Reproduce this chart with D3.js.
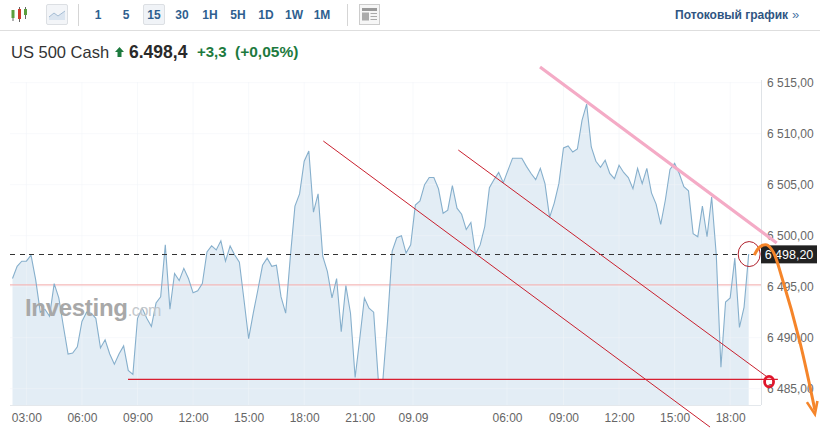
<!DOCTYPE html>
<html><head><meta charset="utf-8">
<script src="https://cdn.jsdelivr.net/npm/d3@7/dist/d3.min.js"></script>
<style>html,body{margin:0;padding:0;background:#fff}svg{display:block}text{font-family:"Liberation Sans",Arial,sans-serif}</style>
</head><body><svg id="c" width="820" height="428"></svg>
<script>
const prices=[6495.8,6497.0,6497.5,6497.5,6498.1,6495.7,6492.5,6492.8,6492.1,6495.3,
6493.9,6491.1,6488.4,6488.5,6489.1,6491.6,6492.5,6492.4,6491.9,6489.0,
6489.8,6488.4,6487.4,6488.4,6489.2,6486.8,6486.4,6491.9,6492.9,6491.9,
6491.1,6493.4,6494.0,6499.1,6492.8,6496.3,6495.6,6496.8,6495.8,6494.4,
6494.6,6495.3,6498.4,6499.0,6498.6,6499.5,6497.5,6499.0,6498.1,6497.4,
6493.7,6489.9,6492.4,6494.7,6497.1,6497.8,6497.0,6497.1,6494.0,6492.4,
6497.9,6502.9,6504.1,6507.3,6508.3,6502.3,6504.1,6498.0,6496.5,6493.9,
6495.8,6490.6,6495.1,6492.4,6486.1,6489.9,6493.9,6492.9,6492.5,6485.9,
6485.9,6491.6,6498.5,6499.8,6500.0,6498.3,6499.1,6503.0,6503.4,6505.0,
6505.7,6505.7,6504.6,6502.2,6502.5,6504.9,6502.7,6502.1,6500.6,6501.3,
6498.2,6499.1,6500.9,6504.7,6505.5,6506.2,6505.2,6506.4,6507.6,6507.6,
6507.6,6506.8,6506.1,6505.5,6506.6,6505.1,6501.8,6503.2,6505.1,6508.6,
6508.8,6508.2,6508.5,6511.3,6512.9,6508.7,6507.3,6506.7,6507.4,6506.1,
6505.6,6506.9,6506.2,6505.7,6504.6,6506.6,6505.1,6506.6,6504.2,6503.1,
6501.1,6503.5,6506.5,6507.1,6506.1,6504.8,6504.4,6500.2,6499.9,6502.9,
6499.9,6503.8,6498.1,6487.1,6493.5,6493.9,6497.8,6491.0,6493.0,6498.2];
const timeTickIdx=[3,15,27,39,51,63,75,86.5,106.8,119,131,143,155];
const timeTickLabels=["03:00","06:00","09:00","12:00","15:00","18:00","21:00","09.09","06:00","09:00","12:00","15:00","18:00"];
const priceTicks=[6515,6510,6505,6500,6495,6490,6485];
const priceTickLabels=["6 515,00","6 510,00","6 505,00","6 500,00","6 495,00","6 490,00","6 485,00"];
const lastPrice=6498.2, lastLabel="6 498,20", refPrice=6495.17;
const redLines=[[[67.13,6509.28],[150.65,6481.24]],[[96.28,6508.4],[162.9,6486.18]]];
const supportLine=[[24.95,6485.92],[165.3,6485.92]];
const pinkLine=[[113.93,6516.54],[165.05,6499.28]];
const orangeCurve=[[160.2,6498.1],[161.4,6498.9],[162.9,6499.1],[164.3,6498.4],[166.1,6496.0],[170.1,6489.5],[173.3,6482.9]];
const thinCircle=[159.1,6498.2], boldCircle=[163.4,6485.69];
const intervals=["1","5","15","30","1H","5H","1D","1W","1M"];

const svg=d3.select("#c");
const x=d3.scaleLinear().domain([0,159]).range([12.5,748.7]);
const y=d3.scaleLinear().domain([6485,6515]).range([388.7,82.7]);
const L=10,R=761,B=405,T=82;
const UI='"Inter","Liberation Sans",sans-serif';

// grid and axes
const grid=svg.append("g").attr("stroke","#f1f4f7").attr("stroke-width",1);
grid.selectAll(".v").data(timeTickIdx).join("line").attr("x1",d=>x(d)).attr("x2",d=>x(d)).attr("y1",T).attr("y2",B);
grid.selectAll(".h").data(priceTicks).join("line").attr("x1",L).attr("x2",R).attr("y1",d=>y(d)).attr("y2",d=>y(d));

// area + line
const series=prices.map((v,i)=>[i,v]);
svg.append("path").datum(series).attr("fill","#e3edf5").attr("d",d3.area().x(d=>x(d[0])).y0(B).y1(d=>y(d[1])));
grid.raise();
grid.attr("stroke-opacity",0.55);

svg.append("line").attr("x1",L).attr("x2",R).attr("y1",y(refPrice)).attr("y2",y(refPrice)).attr("stroke","#f5b9b9").attr("stroke-width",1.2);
svg.append("path").datum(series).attr("fill","none").attr("stroke","#86afcc").attr("stroke-width",1.1).attr("d",d3.line().x(d=>x(d[0])).y(d=>y(d[1])));

const axB=svg.append("g").attr("transform",`translate(0,${B})`).call(d3.axisBottom(x).tickValues(timeTickIdx).tickFormat((d,i)=>timeTickLabels[i]).tickSize(0).tickPadding(8.5));
axB.select(".domain").remove();
svg.append("line").attr("x1",L).attr("x2",R).attr("y1",B+.5).attr("y2",B+.5).attr("stroke","#e4e8ec");
axB.selectAll("text").attr("font-size",12).attr("fill","#666").attr("font-family",'"Liberation Sans",sans-serif');
const axR=svg.append("g").attr("transform",`translate(${R},0)`).call(d3.axisRight(y).tickValues(priceTicks).tickFormat((d,i)=>priceTickLabels[i]).tickSize(0).tickPadding(6));
axR.select(".domain").remove();
svg.append("line").attr("x1",R+.5).attr("x2",R+.5).attr("y1",T-2).attr("y2",B).attr("stroke","#dfe3e7");
axR.selectAll("text").attr("font-size",12).attr("fill","#666").attr("font-family",'"Liberation Sans",sans-serif');

// watermark
const wm=svg.append("text").attr("x",25).attr("y",316).attr("font-size",24).attr("font-weight",700).attr("fill","#a8a8a8").attr("letter-spacing",-.3).attr("font-family",'"Liberation Sans",sans-serif');
wm.append("tspan").text("Investing");
wm.append("tspan").text(".com").attr("font-weight",400).attr("font-size",16).attr("fill","#c4c8cc");

// last price line and label
svg.append("line").attr("x1",L).attr("x2",R).attr("y1",y(lastPrice)).attr("y2",y(lastPrice)).attr("stroke","#333").attr("stroke-dasharray","5,4.5").attr("shape-rendering","crispEdges");

// drawn annotations
const ln=d3.line().x(d=>x(d[0])).y(d=>y(d[1]));
svg.selectAll(".red").data(redLines).join("path").attr("fill","none").attr("d",ln).attr("stroke","#c8202e").attr("stroke-width",1);
svg.append("path").datum(supportLine).attr("fill","none").attr("d",ln).attr("stroke","#d81f30").attr("stroke-width",1.3);
svg.append("path").datum(pinkLine).attr("d",ln).attr("stroke","#f4abc6").attr("stroke-width",3.2).attr("fill","none");

svg.append("rect").attr("x",R).attr("y",y(lastPrice)-8.7).attr("width",56).attr("height",18).attr("fill","#222");
svg.append("text").attr("x",R+28).attr("y",y(lastPrice)+4.6).attr("text-anchor","middle").attr("fill","#fff").attr("font-size",12.5).attr("font-weight",400).text(lastLabel);

svg.append("ellipse").attr("cx",x(thinCircle[0])).attr("cy",y(thinCircle[1])).attr("rx",11).attr("ry",12.5).attr("fill","none").attr("stroke","#b0202c").attr("stroke-width",1);
svg.append("ellipse").attr("cx",x(boldCircle[0])).attr("cy",y(boldCircle[1])).attr("rx",4.5).attr("ry",5.2).attr("fill","none").attr("stroke","#e0162b").attr("stroke-width",2.8);
svg.append("path").datum(orangeCurve).attr("d",d3.line().x(d=>x(d[0])).y(d=>y(d[1])).curve(d3.curveCatmullRom)).attr("fill","none").attr("stroke","#f5852a").attr("stroke-width",3);
const tip=orangeCurve[orangeCurve.length-1], tx=x(tip[0]), ty=y(tip[1])+4;
svg.append("path").attr("d",`M${tx-8},${ty-12}L${tx},${ty}L${tx+2.5},${ty-13}`).attr("fill","none").attr("stroke","#f5852a").attr("stroke-width",2.6);

// toolbar
svg.append("line").attr("x1",0).attr("x2",820).attr("y1",30.5).attr("y2",30.5).attr("stroke","#dedede");
[78.5,347.5].forEach(p=>svg.append("line").attr("x1",p).attr("x2",p).attr("y1",4).attr("y2",26).attr("stroke","#d5d5d5"));
const candles=[[13,"#5c9e3e",11,21,10,18],[19.5,"#d0392b",7,22,9,19],[25.5,"#5c9e3e",7,19,9,15]];
candles.forEach(c=>{svg.append("line").attr("x1",c[0]).attr("x2",c[0]).attr("y1",c[2]).attr("y2",c[3]).attr("stroke","#666");
 svg.append("rect").attr("x",c[0]-1.5).attr("y",c[4]).attr("width",3).attr("height",c[5]-c[4]).attr("fill",c[1]);});
svg.append("rect").attr("x",46.5).attr("y",4.5).attr("width",21).attr("height",20).attr("rx",1.5).attr("fill","#f3f5f8").attr("stroke","#dcdfe3");
svg.append("path").attr("d","M49,20L49,17L54,13L58,16L65,11L65,20Z").attr("fill","#dbe5f0");
svg.append("path").attr("d","M49,17L54,13L58,16L65,11").attr("fill","none").attr("stroke","#a6bdd4");
svg.append("rect").attr("x",143.5).attr("y",4.5).attr("width",21).attr("height",20).attr("rx",1.5).attr("fill","#f0f3f7").attr("stroke","#dcdfe3");
const ivX=d3.scalePoint().domain(intervals).range([98,322]);
svg.selectAll(".iv").data(intervals).join("text").attr("x",d=>ivX(d)).attr("y",19).attr("text-anchor","middle").attr("font-size",12).attr("font-weight",600).attr("fill","#2f5f8f").attr("font-family",UI).text(d=>d);
svg.append("rect").attr("x",359.5).attr("y",4.5).attr("width",20).attr("height",20).attr("fill","#f6f6f6").attr("stroke","#ccc");
svg.append("rect").attr("x",362).attr("y",8).attr("width",15).attr("height",3).attr("fill","#999");
svg.append("rect").attr("x",362).attr("y",12.5).attr("width",7).attr("height",8).attr("fill","#aaa");
svg.append("path").attr("d","M370.5,13.5h6.5M370.5,16.5h6.5M370.5,19.5h6.5").attr("stroke","#aaa");
svg.append("text").attr("x",675).attr("y",19).attr("font-size",12).attr("font-weight",700).attr("fill","#2f5582").attr("font-family",UI).text("Потоковый график");
svg.append("text").attr("x",792).attr("y",19).attr("font-size",13).attr("fill","#4a76a8").attr("font-family",UI).text("»");

// header
svg.append("text").attr("x",11).attr("y",57.5).attr("font-size",16.5).attr("fill","#333").attr("font-family",UI).text("US 500 Cash");
svg.append("path").attr("d","M119.5,47L124,52H121.5V57H117.5V52H115Z").attr("fill","#1d7a3e");
svg.append("text").attr("x",129).attr("y",57.5).attr("font-size",17.5).attr("font-weight",700).attr("fill","#2a2a2a").attr("font-family",UI).text("6.498,4");
svg.append("text").attr("x",197).attr("y",57).attr("font-size",15).attr("font-weight",600).attr("fill","#1d7a3e").attr("font-family",UI).text("+3,3");
svg.append("text").attr("x",235).attr("y",57).attr("font-size",15.5).attr("font-weight",600).attr("fill","#1d7a3e").attr("font-family",UI).text("(+0,05%)");
</script></body></html>
